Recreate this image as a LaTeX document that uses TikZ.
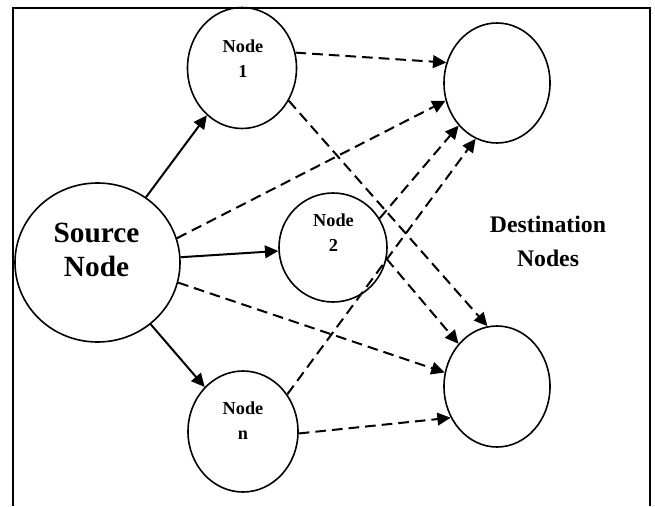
\documentclass[tikz,border=0pt]{standalone}
\usepackage{fontspec}
\setmainfont{Liberation Serif}
\usetikzlibrary{shapes.geometric,arrows.meta}
\begin{document}
\begin{tikzpicture}[x=0.75pt,y=-0.75pt,
  blob/.style={draw,ellipse,line width=1.2pt,inner sep=0pt},
  lbl/.style={align=center,inner sep=0pt,font=\bfseries\fontsize{13.7}{18.75}\selectfont},
  link/.style={line width=1.5pt,-{Triangle[length=10pt,width=9.5pt]}},
  dlink/.style={link,dash pattern=on 8pt off 4.5pt}]
\useasboundingbox (0,0) rectangle (655,506);

% outer frame (open at the bottom)
\draw[line width=1.2pt] (13,506) -- (13,8) -- (650,8) -- (650,506);

% nodes
\node[blob,minimum width=123.75pt,minimum height=119.25pt] (src) at (97.5,262.5) {};
\node[blob,minimum width=81.75pt,minimum height=90.75pt] (n1) at (242,68) {};
\node[blob,minimum width=81pt,minimum height=81.75pt] (n2) at (333,247.5) {};
\node[blob,minimum width=82.5pt,minimum height=90.75pt] (nn) at (243,431.5) {};
\node[blob,minimum width=79.5pt,minimum height=90pt] (dt) at (497,83) {};
\node[blob,minimum width=79.5pt,minimum height=90.75pt] (db) at (497,386.5) {};

% labels
\node[align=center,inner sep=0pt,font=\bfseries\fontsize{22}{25.5}\selectfont] (tsrc) at (96.5,250) {Source\\Node};
\node[lbl] (t1) at (243,58.5) {Node\\1};
\node[lbl] (t2) at (333.5,233) {Node\\2};
\node[lbl] (tn) at (243,421) {Node\\n};
\node[align=center,inner sep=0pt,font=\bfseries\fontsize{17.8}{26}\selectfont] (tdst) at (548,241.5) {Destination\\Nodes};

% source to intermediate nodes
\draw[link] (src) -- (n1);
\draw[link] (src) -- (n2);
\draw[link] (src) -- (nn);

% dashed links towards the destinations
\draw[dlink] (n1.16) -- (dt.158);
\draw[dlink] (n1.-35) -- (db.99);
\draw[dlink] (src.17) -- (dt.-161);
\draw[dlink] (src.-14) -- (db.165);
\draw[dlink] (n2.32) -- (dt.-132);
\draw[dlink] (n2.-12) -- (db.132);
\draw[dlink] (nn.40) -- (dt.-111);
\draw[dlink] (nn.-2) -- (db.-146);
\end{tikzpicture}
\end{document}
